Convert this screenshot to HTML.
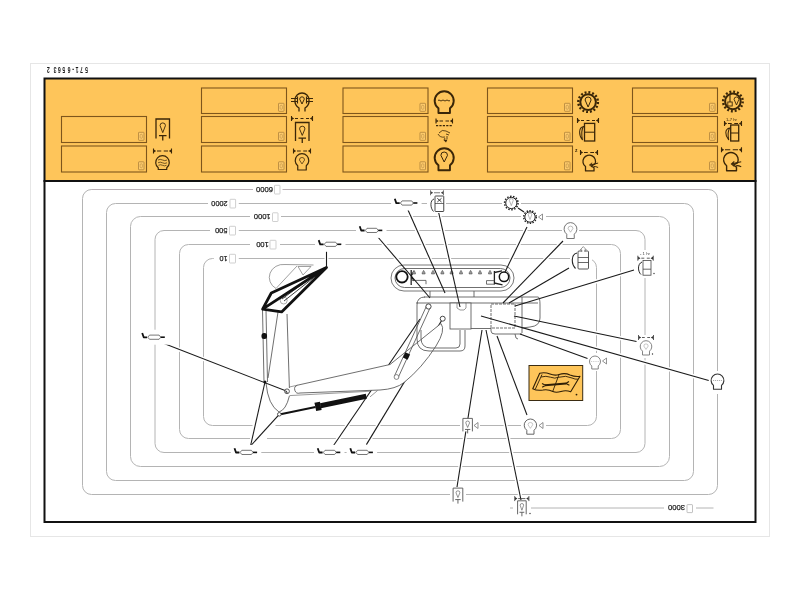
<!DOCTYPE html>
<html><head><meta charset="utf-8"><style>
html,body{margin:0;padding:0;background:#fff;width:800px;height:600px;overflow:hidden}
svg{display:block;font-family:"Liberation Sans",sans-serif}
</style></head><body>
<div style="position:absolute;left:0;top:0;width:800px;height:600px;will-change:transform">
<svg width="800" height="600" viewBox="0 0 800 600">

<defs><g id="gg"><path d="M-1.3,-4.2 L0.2,0.1 H3.6" fill="none" stroke="#111" stroke-width="1.8" stroke-linejoin="round"/><path d="M4.3,0 L6,-2.1 H15.6 L17.3,0 L15.6,2.1 H6 Z" fill="#fff" stroke="#555" stroke-width="0.8" stroke-linejoin="round"/><path d="M17.2,0 H21.3" stroke="#111" stroke-width="1.6"/></g></defs>
<rect x="30.5" y="63.5" width="739" height="473" fill="none" stroke="#e6e6e6" stroke-width="1"/>
<rect x="44.5" y="78.5" width="711" height="102.5" fill="#fec55a" stroke="#111" stroke-width="2"/>
<rect x="44.5" y="181" width="711" height="341" fill="#fff" stroke="#111" stroke-width="2"/>
<text x="0.32 8.39 15.65 23.06 28.71 36.94 44.35 51.29 62.10" y="0" font-size="8.4" font-weight="bold" fill="#1a1a1a" transform="translate(88.2,67.4) rotate(180) scale(0.62,1)">571-65632</text>
<rect x="61.5" y="116.5" width="85" height="26.0" fill="#fec55a" stroke="#7e561c" stroke-width="1.1"/>
<rect x="138.5" y="132.3" width="5.5" height="8" rx="0.6" fill="#fecb6c" stroke="#a57a35" stroke-width="0.7"/><rect x="140.1" y="134.3" width="2.3" height="4" rx="1" fill="none" stroke="#a57a35" stroke-width="0.45"/>
<rect x="61.5" y="146" width="85" height="26" fill="#fec55a" stroke="#7e561c" stroke-width="1.1"/>
<rect x="138.5" y="161.8" width="5.5" height="8" rx="0.6" fill="#fecb6c" stroke="#a57a35" stroke-width="0.7"/><rect x="140.1" y="163.8" width="2.3" height="4" rx="1" fill="none" stroke="#a57a35" stroke-width="0.45"/>
<rect x="201.5" y="88" width="85" height="25.5" fill="#fec55a" stroke="#7e561c" stroke-width="1.1"/>
<rect x="278.5" y="103.3" width="5.5" height="8" rx="0.6" fill="#fecb6c" stroke="#a57a35" stroke-width="0.7"/><rect x="280.1" y="105.3" width="2.3" height="4" rx="1" fill="none" stroke="#a57a35" stroke-width="0.45"/>
<rect x="201.5" y="116.5" width="85" height="26.0" fill="#fec55a" stroke="#7e561c" stroke-width="1.1"/>
<rect x="278.5" y="132.3" width="5.5" height="8" rx="0.6" fill="#fecb6c" stroke="#a57a35" stroke-width="0.7"/><rect x="280.1" y="134.3" width="2.3" height="4" rx="1" fill="none" stroke="#a57a35" stroke-width="0.45"/>
<rect x="201.5" y="146" width="85" height="26" fill="#fec55a" stroke="#7e561c" stroke-width="1.1"/>
<rect x="278.5" y="161.8" width="5.5" height="8" rx="0.6" fill="#fecb6c" stroke="#a57a35" stroke-width="0.7"/><rect x="280.1" y="163.8" width="2.3" height="4" rx="1" fill="none" stroke="#a57a35" stroke-width="0.45"/>
<rect x="343" y="88" width="85" height="25.5" fill="#fec55a" stroke="#7e561c" stroke-width="1.1"/>
<rect x="420" y="103.3" width="5.5" height="8" rx="0.6" fill="#fecb6c" stroke="#a57a35" stroke-width="0.7"/><rect x="421.6" y="105.3" width="2.3" height="4" rx="1" fill="none" stroke="#a57a35" stroke-width="0.45"/>
<rect x="343" y="116.5" width="85" height="26.0" fill="#fec55a" stroke="#7e561c" stroke-width="1.1"/>
<rect x="420" y="132.3" width="5.5" height="8" rx="0.6" fill="#fecb6c" stroke="#a57a35" stroke-width="0.7"/><rect x="421.6" y="134.3" width="2.3" height="4" rx="1" fill="none" stroke="#a57a35" stroke-width="0.45"/>
<rect x="343" y="146" width="85" height="26" fill="#fec55a" stroke="#7e561c" stroke-width="1.1"/>
<rect x="420" y="161.8" width="5.5" height="8" rx="0.6" fill="#fecb6c" stroke="#a57a35" stroke-width="0.7"/><rect x="421.6" y="163.8" width="2.3" height="4" rx="1" fill="none" stroke="#a57a35" stroke-width="0.45"/>
<rect x="487.5" y="88" width="85" height="25.5" fill="#fec55a" stroke="#7e561c" stroke-width="1.1"/>
<rect x="564.5" y="103.3" width="5.5" height="8" rx="0.6" fill="#fecb6c" stroke="#a57a35" stroke-width="0.7"/><rect x="566.1" y="105.3" width="2.3" height="4" rx="1" fill="none" stroke="#a57a35" stroke-width="0.45"/>
<rect x="487.5" y="116.5" width="85" height="26.0" fill="#fec55a" stroke="#7e561c" stroke-width="1.1"/>
<rect x="564.5" y="132.3" width="5.5" height="8" rx="0.6" fill="#fecb6c" stroke="#a57a35" stroke-width="0.7"/><rect x="566.1" y="134.3" width="2.3" height="4" rx="1" fill="none" stroke="#a57a35" stroke-width="0.45"/>
<rect x="487.5" y="146" width="85" height="26" fill="#fec55a" stroke="#7e561c" stroke-width="1.1"/>
<rect x="564.5" y="161.8" width="5.5" height="8" rx="0.6" fill="#fecb6c" stroke="#a57a35" stroke-width="0.7"/><rect x="566.1" y="163.8" width="2.3" height="4" rx="1" fill="none" stroke="#a57a35" stroke-width="0.45"/>
<rect x="632.5" y="88" width="85" height="25.5" fill="#fec55a" stroke="#7e561c" stroke-width="1.1"/>
<rect x="709.5" y="103.3" width="5.5" height="8" rx="0.6" fill="#fecb6c" stroke="#a57a35" stroke-width="0.7"/><rect x="711.1" y="105.3" width="2.3" height="4" rx="1" fill="none" stroke="#a57a35" stroke-width="0.45"/>
<rect x="632.5" y="116.5" width="85" height="26.0" fill="#fec55a" stroke="#7e561c" stroke-width="1.1"/>
<rect x="709.5" y="132.3" width="5.5" height="8" rx="0.6" fill="#fecb6c" stroke="#a57a35" stroke-width="0.7"/><rect x="711.1" y="134.3" width="2.3" height="4" rx="1" fill="none" stroke="#a57a35" stroke-width="0.45"/>
<rect x="632.5" y="146" width="85" height="26" fill="#fec55a" stroke="#7e561c" stroke-width="1.1"/>
<rect x="709.5" y="161.8" width="5.5" height="8" rx="0.6" fill="#fecb6c" stroke="#a57a35" stroke-width="0.7"/><rect x="711.1" y="163.8" width="2.3" height="4" rx="1" fill="none" stroke="#a57a35" stroke-width="0.45"/>
<path d="M156,138.5 V119 H169.5 V138.5" fill="none" stroke="#3a2608" stroke-width="1.3"/><path d="M162.75,132.65 L160.05,125.60 A2.70,2.70 0 0 1 165.45,125.60 Z" fill="none" stroke="#3a2608" stroke-width="0.9099999999999999" stroke-linejoin="round"/><path d="M158.97,135.57 H166.53 M162.75,135.57 V140.50" stroke="#3a2608" stroke-width="1.3" fill="none"/>
<line x1="157" y1="151" x2="168" y2="151" stroke="#3a2608" stroke-width="1.1" stroke-dasharray="4.25 2.5"/><path d="M153.5,148.5 V153.5 M171.5,148.5 V153.5" stroke="#3a2608" stroke-width="1.1"/><path d="M153.8,149.4 L156.2,151 L153.8,152.6 Z M171.2,149.4 L168.8,151 L171.2,152.6 Z" fill="#3a2608"/>
<path d="M158.25,169.50 V167.81 A6.8,6.8 0 1 1 166.75,167.81 V169.50 Z" fill="none" stroke="#3a2608" stroke-width="1.2" stroke-linejoin="round"/>
<path d="M158,160 q2.2,-1.3 4.5,0 t4.5,0 M158,162.8 q2.2,-1.3 4.5,0 t4.5,0 M158.5,165.3 q2,-1.1 4,0 t4,0" fill="none" stroke="#3a2608" stroke-width="0.7"/>
<path d="M299,111.5 V108 Q294.5,105 295,100 A7,7 0 0 1 309,100 Q309.5,105 305,108 V111.5" fill="none" stroke="#3a2608" stroke-width="1.3"/>
<path d="M291,98.5 H297 M307,98.5 H313 M291,101.5 H297 M307,101.5 H313 M297.5,96.5 V103.5 M306.5,96.5 V103.5" stroke="#3a2608" stroke-width="1.1"/>
<path d="M302.00,104.00 L299.70,99.10 A2.30,2.30 0 0 1 304.30,99.10 Z" fill="none" stroke="#3a2608" stroke-width="1.0" stroke-linejoin="round"/>
<line x1="295" y1="118.5" x2="309" y2="118.5" stroke="#3a2608" stroke-width="1.1" stroke-dasharray="3.00 2.5"/><path d="M291.5,116.0 V121.0 M312.5,116.0 V121.0" stroke="#3a2608" stroke-width="1.1"/><path d="M291.8,116.9 L294.2,118.5 L291.8,120.1 Z M312.2,116.9 L309.8,118.5 L312.2,120.1 Z" fill="#3a2608"/>
<path d="M295.5,141 V122.5 H309 V141" fill="none" stroke="#3a2608" stroke-width="1.3"/><path d="M302.25,135.45 L299.55,128.90 A2.70,2.70 0 0 1 304.95,128.90 Z" fill="none" stroke="#3a2608" stroke-width="0.9099999999999999" stroke-linejoin="round"/><path d="M298.47,138.22 H306.03 M302.25,138.22 V143.00" stroke="#3a2608" stroke-width="1.3" fill="none"/>
<line x1="297" y1="151" x2="307" y2="151" stroke="#3a2608" stroke-width="1.1" stroke-dasharray="3.75 2.5"/><path d="M293.5,148.5 V153.5 M310.5,148.5 V153.5" stroke="#3a2608" stroke-width="1.1"/><path d="M293.8,149.4 L296.2,151 L293.8,152.6 Z M310.2,149.4 L307.8,151 L310.2,152.6 Z" fill="#3a2608"/>
<path d="M297.75,170.00 V165.81 A6.8,6.8 0 1 1 306.25,165.81 V170.00 Z" fill="none" stroke="#3a2608" stroke-width="1.2" stroke-linejoin="round"/><path d="M302.00,163.90 L299.42,160.02 A2.58,2.58 0 0 1 304.58,160.02 Z" fill="none" stroke="#3a2608" stroke-width="0.72" stroke-linejoin="round"/>
<path d="M438.45,113.00 V108.36 A9.5,9.5 0 1 1 449.95,108.36 V113.00 Z" fill="none" stroke="#3a2608" stroke-width="1.9" stroke-linejoin="round"/>
<path d="M438,100.5 q1,-1 2,0 t2,0 t2,0 t2,0 t2,0 t2,0" fill="none" stroke="#3a2608" stroke-width="0.9"/>
<line x1="439.5" y1="121" x2="449" y2="121" stroke="#3a2608" stroke-width="1.1" stroke-dasharray="3.50 2.5"/><path d="M436.0,118.5 V123.5 M452.5,118.5 V123.5" stroke="#3a2608" stroke-width="1.1"/><path d="M436.3,119.4 L438.7,121 L436.3,122.6 Z M452.2,119.4 L449.8,121 L452.2,122.6 Z" fill="#3a2608"/>
<line x1="436" y1="125.6" x2="452.5" y2="125.6" stroke="#3a2608" stroke-width="1.3" stroke-dasharray="2.2 1.2"/>
<path d="M439,133 q3,-4 7,-2 l4,2 M438,134 q2,4 7,3 M446,134 l3,1 M447,136 v3 M444,140 l1,-2" fill="none" stroke="#3a2608" stroke-width="0.8"/><path d="M443.5,140 l2.5,2.5 l1.5,-3 Z" fill="#3a2608"/>
<path d="M438.45,170.30 V165.36 A9.5,9.5 0 1 1 449.95,165.36 V170.30 Z" fill="none" stroke="#3a2608" stroke-width="1.9" stroke-linejoin="round"/>
<path d="M444.20,162.00 L440.90,155.30 A3.30,3.30 0 0 1 447.50,155.30 Z" fill="none" stroke="#3a2608" stroke-width="1.0" stroke-linejoin="round"/>
<circle cx="588.1" cy="102.1" r="9.80" fill="none" stroke="#3a2608" stroke-width="2.40" stroke-dasharray="1.924 1.924"/><circle cx="588.1" cy="102.1" r="7.8" fill="none" stroke="#3a2608" stroke-width="2.0"/>
<path d="M588.10,107.00 L585.10,100.00 A3.00,3.00 0 0 1 591.10,100.00 Z" fill="none" stroke="#3a2608" stroke-width="1.0" stroke-linejoin="round"/>
<line x1="581" y1="120.5" x2="595" y2="120.5" stroke="#3a2608" stroke-width="1.1" stroke-dasharray="3.00 2.5"/><path d="M577.5,118.0 V123.0 M598.5,118.0 V123.0" stroke="#3a2608" stroke-width="1.1"/><path d="M577.8,118.9 L580.2,120.5 L577.8,122.1 Z M598.2,118.9 L595.8,120.5 L598.2,122.1 Z" fill="#3a2608"/>
<rect x="584.5" y="123.4" width="10.200000000000045" height="17.599999999999994" fill="none" stroke="#3a2608" stroke-width="1.3"/><line x1="584.5" y1="132.2" x2="594.7" y2="132.2" stroke="#3a2608" stroke-width="1.04"/><path d="M583.5,126.4 C578.5,127.4 578.5,135 582.5,140 C581.5,135 581.5,129.4 583.5,126.4 Z" fill="none" stroke="#3a2608" stroke-width="1.04"/>
<text x="575" y="152" font-size="5" fill="#3a2608" font-weight="bold">z</text>
<line x1="584" y1="152.5" x2="594" y2="152.5" stroke="#3a2608" stroke-width="1.1" stroke-dasharray="3.75 2.5"/><path d="M580.5,150.0 V155.0 M597.5,150.0 V155.0" stroke="#3a2608" stroke-width="1.1"/><path d="M580.8,150.9 L583.2,152.5 L580.8,154.1 Z M597.2,150.9 L594.8,152.5 L597.2,154.1 Z" fill="#3a2608"/>
<path d="M585.52,170.96 V166.55 A6.3,6.3 0 1 1 594.97,164.03 L591.50,165.92 L594.02,167.81 V170.96 Z" fill="none" stroke="#3a2608" stroke-width="1.3" stroke-linejoin="round"/><path d="M598.12,163.09 Q594.34,164.03 589.62,164.98 M592.13,162.77 L589.62,164.98 L592.13,167.19 M598.12,167.50 Q595.60,166.24 593.71,166.55" fill="none" stroke="#3a2608" stroke-width="0.98"/>
<circle cx="732.9" cy="101.4" r="9.80" fill="none" stroke="#3a2608" stroke-width="2.40" stroke-dasharray="1.924 1.924"/><circle cx="732.9" cy="101.4" r="7.8" fill="none" stroke="#3a2608" stroke-width="2.0"/>
<path d="M730,94 V102" stroke="#3a2608" stroke-width="1.1"/><rect x="727.8" y="102" width="4.4" height="4" fill="none" stroke="#3a2608" stroke-width="0.9"/>
<path d="M736.50,105.00 L734.10,99.40 A2.40,2.40 0 0 1 738.90,99.40 Z" fill="none" stroke="#3a2608" stroke-width="0.9" stroke-linejoin="round"/>
<text x="726" y="120.5" font-size="4.2" fill="#3a2608">1-7 hr</text>
<line x1="728" y1="123.5" x2="738" y2="123.5" stroke="#3a2608" stroke-width="1.1" stroke-dasharray="3.75 2.5"/><path d="M724.5,121.0 V126.0 M741.5,121.0 V126.0" stroke="#3a2608" stroke-width="1.1"/><path d="M724.8,121.9 L727.2,123.5 L724.8,125.1 Z M741.2,121.9 L738.8,123.5 L741.2,125.1 Z" fill="#3a2608"/>
<rect x="730.7" y="125" width="8.0" height="16" fill="none" stroke="#3a2608" stroke-width="1.3"/><line x1="730.7" y1="133.0" x2="738.7" y2="133.0" stroke="#3a2608" stroke-width="1.04"/><path d="M729.7,128 C724.7,129 724.7,135 728.7,140 C727.7,135 727.7,131 729.7,128 Z" fill="none" stroke="#3a2608" stroke-width="1.04"/>
<line x1="725" y1="149.8" x2="738" y2="149.8" stroke="#3a2608" stroke-width="1.1" stroke-dasharray="5.25 2.5"/><path d="M721.5,147.3 V152.3 M741.5,147.3 V152.3" stroke="#3a2608" stroke-width="1.1"/><path d="M721.8,148.20000000000002 L724.2,149.8 L721.8,151.4 Z M741.2,148.20000000000002 L738.8,149.8 L741.2,151.4 Z" fill="#3a2608"/>
<path d="M726.62,170.81 V165.71 A7.3,7.3 0 1 1 737.57,162.78 L733.55,164.97 L736.48,167.16 V170.81 Z" fill="none" stroke="#3a2608" stroke-width="1.4" stroke-linejoin="round"/><path d="M741.22,161.69 Q736.84,162.78 731.37,163.88 M734.28,161.32 L731.37,163.88 L734.28,166.44 M741.22,166.80 Q738.30,165.34 736.11,165.71" fill="none" stroke="#3a2608" stroke-width="1.05"/>
<g fill="none" stroke="#b4b4b4" stroke-width="1">
<rect x="82.5" y="189.5" width="635.0" height="305.0" rx="9"/>
<rect x="106.5" y="203.5" width="587.0" height="277.0" rx="9"/>
<rect x="130.5" y="216.5" width="539.0" height="250.0" rx="10"/>
<rect x="155" y="230.5" width="490" height="222.0" rx="9"/>
<rect x="179.5" y="244.5" width="441.0" height="194.0" rx="9"/>
<rect x="203.5" y="258.5" width="393.0" height="167.0" rx="9"/>
</g>
<line x1="91.5" y1="189.5" x2="708.5" y2="189.5" stroke="#bab0b6" stroke-width="1"/>
<rect x="253" y="187.5" width="29.5" height="4" fill="#fff"/><text x="0" y="0" font-size="7.7" fill="#1e1e1e" stroke="#1e1e1e" stroke-width="0.25" transform="translate(273,186.7) rotate(180)" textLength="17" lengthAdjust="spacingAndGlyphs">6000</text><rect x="274.5" y="185.3" width="5.5" height="8.7" rx="0.6" fill="#fff" stroke="#bbb" stroke-width="0.7"/>
<rect x="208" y="201.5" width="30.75" height="4" fill="#fff"/><text x="0" y="0" font-size="7.7" fill="#1e1e1e" stroke="#1e1e1e" stroke-width="0.25" transform="translate(227.5,200.7) rotate(180)" textLength="16.25" lengthAdjust="spacingAndGlyphs">2000</text><rect x="230" y="199.3" width="5.599999999999994" height="8.7" rx="0.6" fill="#fff" stroke="#bbb" stroke-width="0.7"/>
<rect x="250" y="215" width="31" height="4" fill="#fff"/><text x="0" y="0" font-size="7.7" fill="#1e1e1e" stroke="#1e1e1e" stroke-width="0.25" transform="translate(270.6,214.2) rotate(180)" textLength="16.850000000000023" lengthAdjust="spacingAndGlyphs">1000</text><rect x="272.5" y="212.8" width="5.5" height="8.7" rx="0.6" fill="#fff" stroke="#bbb" stroke-width="0.7"/>
<rect x="210" y="228.5" width="28.75" height="4" fill="#fff"/><text x="0" y="0" font-size="7.7" fill="#1e1e1e" stroke="#1e1e1e" stroke-width="0.25" transform="translate(227.5,227.7) rotate(180)" textLength="12.5" lengthAdjust="spacingAndGlyphs">500</text><rect x="229.5" y="226.3" width="6.0" height="8.7" rx="0.6" fill="#fff" stroke="#bbb" stroke-width="0.7"/>
<rect x="250" y="242.5" width="30" height="4" fill="#fff"/><text x="0" y="0" font-size="7.7" fill="#1e1e1e" stroke="#1e1e1e" stroke-width="0.25" transform="translate(268.75,241.7) rotate(180)" textLength="12.5" lengthAdjust="spacingAndGlyphs">100</text><rect x="270" y="240.3" width="6" height="8.7" rx="0.6" fill="#fff" stroke="#bbb" stroke-width="0.7"/>
<rect x="213.75" y="256.5" width="25.0" height="4" fill="#fff"/><text x="0" y="0" font-size="7.7" fill="#1e1e1e" stroke="#1e1e1e" stroke-width="0.25" transform="translate(227.5,255.7) rotate(180)" textLength="8.0" lengthAdjust="spacingAndGlyphs">10</text><rect x="229.5" y="254.3" width="6.0" height="8.7" rx="0.6" fill="#fff" stroke="#bbb" stroke-width="0.7"/>
<path d="M510,508 H513 M531,508 H664 M696,508 H713.5" stroke="#b4b4b4" stroke-width="1"/>
<text x="0" y="0" font-size="7.7" fill="#1e1e1e" stroke="#1e1e1e" stroke-width="0.25" transform="translate(685,505.2) rotate(180)" textLength="17" lengthAdjust="spacingAndGlyphs">3000</text>
<rect x="687" y="504.6" width="5.5" height="8" rx="0.6" fill="#fff" stroke="#999" stroke-width="0.6"/>
<line x1="408" y1="210" x2="445" y2="293" stroke="#fff" stroke-width="4"/>
<line x1="377" y1="236" x2="430" y2="298" stroke="#fff" stroke-width="4"/>
<line x1="438.75" y1="213" x2="460" y2="307" stroke="#fff" stroke-width="4"/>
<line x1="326.5" y1="249" x2="326.5" y2="267.5" stroke="#fff" stroke-width="4"/>
<line x1="164" y1="343.6" x2="287" y2="391.3" stroke="#fff" stroke-width="4"/>
<line x1="250.5" y1="446" x2="265" y2="382" stroke="#fff" stroke-width="4"/>
<line x1="250.5" y1="446" x2="279.3" y2="414.3" stroke="#fff" stroke-width="4"/>
<line x1="332.7" y1="446.7" x2="420" y2="319" stroke="#fff" stroke-width="4"/>
<line x1="366.4" y1="444.6" x2="442.7" y2="318.7" stroke="#fff" stroke-width="4"/>
<line x1="527" y1="227" x2="505" y2="272" stroke="#fff" stroke-width="4"/>
<line x1="563" y1="241" x2="503" y2="303" stroke="#fff" stroke-width="4"/>
<line x1="569" y1="268" x2="509" y2="303" stroke="#fff" stroke-width="4"/>
<line x1="634" y1="270" x2="515" y2="306" stroke="#fff" stroke-width="4"/>
<line x1="636.5" y1="341.5" x2="514" y2="316" stroke="#fff" stroke-width="4"/>
<line x1="708.75" y1="380.5" x2="481" y2="316" stroke="#fff" stroke-width="4"/>
<line x1="587.5" y1="358.5" x2="520" y2="334" stroke="#fff" stroke-width="4"/>
<line x1="482" y1="330" x2="457" y2="487" stroke="#fff" stroke-width="4"/>
<line x1="486" y1="330" x2="521" y2="500" stroke="#fff" stroke-width="4"/>
<line x1="497" y1="336" x2="527" y2="415" stroke="#fff" stroke-width="4"/>
<line x1="518" y1="208" x2="524" y2="212" stroke="#fff" stroke-width="4"/>
<rect x="252.5" y="423.5" width="23" height="4" fill="#fff"/><rect x="250" y="436.5" width="17" height="4" fill="#fff"/>
<rect x="391" y="265" width="123" height="26" rx="13" fill="#fff" stroke="#555" stroke-width="0.8"/>
<rect x="395" y="268.5" width="115" height="19" rx="9.5" fill="none" stroke="#555" stroke-width="0.85"/>
<circle cx="402" cy="276.8" r="5.7" fill="#fff" stroke="#111" stroke-width="1.8"/>
<circle cx="504" cy="276.8" r="4.7" fill="#fff" stroke="#111" stroke-width="1.5"/>
<path d="M411.2,270 V285 M411.2,276 L414,271 M411.2,276 L414,281 M494.4,271 V284.5 M494.4,272.5 L502,270.8 M494.4,283 L502.5,284.8" stroke="#222" stroke-width="1.3" fill="none"/>
<path d="M414,270.3 Q415.9,273 415.5,274 H412.5 Q412.1,273 414,270.3 Z" fill="#999" stroke="#444" stroke-width="0.5"/>
<path d="M423.6,270.3 Q425.5,273 425.1,274 H422.1 Q421.70000000000005,273 423.6,270.3 Z" fill="#999" stroke="#444" stroke-width="0.5"/>
<path d="M433,270.3 Q434.9,273 434.5,274 H431.5 Q431.1,273 433,270.3 Z" fill="#999" stroke="#444" stroke-width="0.5"/>
<path d="M442.4,270.3 Q444.29999999999995,273 443.9,274 H440.9 Q440.5,273 442.4,270.3 Z" fill="#999" stroke="#444" stroke-width="0.5"/>
<path d="M451.6,270.3 Q453.5,273 453.1,274 H450.1 Q449.70000000000005,273 451.6,270.3 Z" fill="#999" stroke="#444" stroke-width="0.5"/>
<path d="M461,270.3 Q462.9,273 462.5,274 H459.5 Q459.1,273 461,270.3 Z" fill="#999" stroke="#444" stroke-width="0.5"/>
<path d="M470.6,270.3 Q472.5,273 472.1,274 H469.1 Q468.70000000000005,273 470.6,270.3 Z" fill="#999" stroke="#444" stroke-width="0.5"/>
<path d="M480,270.3 Q481.9,273 481.5,274 H478.5 Q478.1,273 480,270.3 Z" fill="#999" stroke="#444" stroke-width="0.5"/>
<path d="M490,270.3 Q491.9,273 491.5,274 H488.5 Q488.1,273 490,270.3 Z" fill="#999" stroke="#444" stroke-width="0.5"/>
<path d="M411.5,284.2 V280.4 H426 V284.2 M494.4,280.6 H486.5 V284.2 H494.4" fill="none" stroke="#555" stroke-width="0.85"/>
<path d="M430,291 V297 M474,291 V297" stroke="#555" stroke-width="0.85"/>
<path d="M424,297 H538 M416,303 H538" stroke="#555" stroke-width="0.85" fill="none"/>
<path d="M417,330 V305 Q417,297 425,297 M538,297 Q540,297 540,305 V318 Q540,326 530,327 L522,328" fill="none" stroke="#555" stroke-width="0.85"/>
<rect x="450" y="303" width="21" height="26" fill="#fff" stroke="#555" stroke-width="0.85"/>
<path d="M457,303 V308 L460,310 H464 L466,308 V303" fill="none" stroke="#555" stroke-width="0.6"/>
<rect x="491" y="304" width="24" height="24" fill="#fff" stroke="#555" stroke-width="0.85" stroke-dasharray="3 1"/>
<path d="M471,328.5 H491 M522,297 V333 M491,328 V331 Q491,334 495,334 H522" fill="none" stroke="#555" stroke-width="0.85"/>
<path d="M515,334 l1,4 l2,1" fill="none" stroke="#555" stroke-width="0.85"/>
<path d="M313.5,265 L285,264.5 A14,13 0 0 0 276,288.5 L297,266 M298,266.5 L311,266.5 L303,275 Z" fill="none" stroke="#777" stroke-width="0.7"/>
<path d="M262.5,310 L264,382 M266,310 L267.5,382" stroke="#555" stroke-width="0.85" fill="none"/>
<rect x="261.5" y="333" width="5.5" height="6" rx="2.5" fill="#111"/>
<path d="M278,312 L268,378 M287,314 L289.4,388 M266,383 Q268,405 279,412 Q286,410 289.4,396" fill="none" stroke="#555" stroke-width="0.85"/>
<circle cx="283.7" cy="300.5" r="3.5" fill="none" stroke="#777" stroke-width="0.6"/>
<path d="M326.5,267.5 L271.3,293 L262.6,309.2 L281.6,311.9 Z M326.5,267.5 L262.6,309.2" fill="none" stroke="#111" stroke-width="2.8" stroke-linejoin="round"/>
<path d="M326.5,267.5 L284,301 M324,268 L282,299" stroke="#111" stroke-width="0.8"/>
<line x1="408" y1="210" x2="445" y2="293" stroke="#1a1a1a" stroke-width="1.1"/>
<line x1="377" y1="236" x2="430" y2="298" stroke="#1a1a1a" stroke-width="1.1"/>
<line x1="438.75" y1="213" x2="460" y2="307" stroke="#1a1a1a" stroke-width="1.1"/>
<line x1="326.5" y1="249" x2="326.5" y2="267.5" stroke="#1a1a1a" stroke-width="1.1"/>
<line x1="164" y1="343.6" x2="287" y2="391.3" stroke="#1a1a1a" stroke-width="1.1"/>
<line x1="250.5" y1="446" x2="265" y2="382" stroke="#1a1a1a" stroke-width="1.1"/>
<line x1="250.5" y1="446" x2="279.3" y2="414.3" stroke="#1a1a1a" stroke-width="1.1"/>
<line x1="332.7" y1="446.7" x2="420" y2="319" stroke="#1a1a1a" stroke-width="1.1"/>
<line x1="366.4" y1="444.6" x2="442.7" y2="318.7" stroke="#1a1a1a" stroke-width="1.1"/>
<line x1="527" y1="227" x2="505" y2="272" stroke="#1a1a1a" stroke-width="1.1"/>
<line x1="563" y1="241" x2="503" y2="303" stroke="#1a1a1a" stroke-width="1.1"/>
<line x1="569" y1="268" x2="509" y2="303" stroke="#1a1a1a" stroke-width="1.1"/>
<line x1="634" y1="270" x2="515" y2="306" stroke="#1a1a1a" stroke-width="1.1"/>
<line x1="636.5" y1="341.5" x2="514" y2="316" stroke="#1a1a1a" stroke-width="1.1"/>
<line x1="708.75" y1="380.5" x2="481" y2="316" stroke="#1a1a1a" stroke-width="1.1"/>
<line x1="587.5" y1="358.5" x2="520" y2="334" stroke="#1a1a1a" stroke-width="1.1"/>
<line x1="482" y1="330" x2="457" y2="487" stroke="#1a1a1a" stroke-width="1.1"/>
<line x1="486" y1="330" x2="521" y2="500" stroke="#1a1a1a" stroke-width="1.1"/>
<line x1="497" y1="336" x2="527" y2="415" stroke="#1a1a1a" stroke-width="1.1"/>
<line x1="518" y1="208" x2="524" y2="212" stroke="#1a1a1a" stroke-width="1.1"/>
<path d="M297.5,385.2 L390,364.5 L441,323.5 Q446,330 436,346 Q422,368 404,382.5 Q396,389 380,390 L300,393 A3.4,3.4 0 0 1 297.5,385.2 Z" fill="#fff" stroke="#555" stroke-width="0.85"/>
<path d="M417,330 V339 Q417,351 429,351 H460 Q465,351 465,346 V330 M421,330 V338 Q421,348 431,348 H456 Q460,348 460,344 V330" fill="none" stroke="#555" stroke-width="0.85"/>
<path d="M289.4,387 L297.5,385.2 M289.4,395.6 L370,391.25 M370,396.9 L377.5,390.6" fill="none" stroke="#555" stroke-width="0.6"/>
<path d="M426.5,306 L394.5,376 M430,308 L398,378" stroke="#555" stroke-width="0.85"/>
<circle cx="428.5" cy="306.5" r="2.6" fill="#fff" stroke="#333" stroke-width="0.9"/>
<circle cx="396.5" cy="377" r="2.4" fill="#fff" stroke="#555" stroke-width="0.7"/>
<rect x="-2.6" y="-3" width="5.2" height="6" fill="#111" transform="translate(406.5,356) rotate(25)"/>
<circle cx="442.7" cy="318.7" r="2.5" fill="#fff" stroke="#333" stroke-width="0.9"/>
<path d="M279.3,414.4 L315.5,406.9" stroke="#111" stroke-width="2"/>
<path d="M315.3,406.9 L320.8,405.8" stroke="#111" stroke-width="8.5"/>
<path d="M320.5,405.8 L366.3,396.3" stroke="#111" stroke-width="5"/>
<circle cx="287" cy="391.3" r="2.4" fill="#fff" stroke="#333" stroke-width="0.8"/><path d="M285.5,390 L288,392.8 L285.6,392.6 Z" fill="#222"/>
<circle cx="279.3" cy="414.3" r="1.8" fill="#fff" stroke="#333" stroke-width="0.8"/>
<circle cx="265" cy="382" r="1.5" fill="#111"/>
<rect x="391.1" y="195.5" width="30.5" height="15" fill="#fff"/>
<use href="#gg" transform="translate(396.1,203)"/>
<rect x="356" y="222.9" width="30.5" height="15" fill="#fff"/>
<use href="#gg" transform="translate(361,230.4)"/>
<rect x="315" y="236.8" width="30.5" height="15" fill="#fff"/>
<use href="#gg" transform="translate(320,244.3)"/>
<rect x="138.5" y="329.7" width="30.5" height="15" fill="#fff"/>
<use href="#gg" transform="translate(143.5,337.2)"/>
<rect x="230.8" y="444.9" width="30.5" height="15" fill="#fff"/>
<use href="#gg" transform="translate(235.8,452.4)"/>
<rect x="314" y="444.9" width="30.5" height="15" fill="#fff"/>
<use href="#gg" transform="translate(319,452.4)"/>
<rect x="346.6" y="444.9" width="30.5" height="15" fill="#fff"/>
<use href="#gg" transform="translate(351.6,452.4)"/>
<rect x="502" y="201.5" width="19" height="4.0" fill="#fff"/>
<circle cx="511.3" cy="203" r="5.8" fill="#fff"/>
<circle cx="511.3" cy="203" r="6.75" fill="none" stroke="#222" stroke-width="1.50" stroke-dasharray="1.515 1.515"/><circle cx="511.3" cy="203" r="5.6" fill="none" stroke="#222" stroke-width="1.0"/>
<path d="M511.30,205.60 L509.40,200.50 A1.90,1.90 0 0 1 513.20,200.50 Z" fill="none" stroke="#888" stroke-width="0.6" stroke-linejoin="round"/>
<rect x="521" y="215" width="25" height="4" fill="#fff"/>
<circle cx="530" cy="217" r="5.4" fill="#fff"/>
<circle cx="530" cy="217" r="6.30" fill="none" stroke="#222" stroke-width="1.40" stroke-dasharray="1.414 1.414"/><circle cx="530" cy="217" r="5.2" fill="none" stroke="#222" stroke-width="1.0"/>
<path d="M530.00,219.50 L528.20,214.80 A1.80,1.80 0 0 1 531.80,214.80 Z" fill="none" stroke="#888" stroke-width="0.6" stroke-linejoin="round"/>
<path d="M538.5,217 L542.5,214 V220 Z" fill="#fff" stroke="#666" stroke-width="0.7"/>
<rect x="427" y="201.5" width="19" height="4.0" fill="#fff"/>
<line x1="434" y1="192.75" x2="440" y2="192.75" stroke="#444" stroke-width="0.7" stroke-dasharray="6.00 2.5"/><path d="M430.5,190.25 V195.25 M443.5,190.25 V195.25" stroke="#444" stroke-width="0.7"/><path d="M430.8,191.15 L433.2,192.75 L430.8,194.35 Z M443.2,191.15 L440.8,192.75 L443.2,194.35 Z" fill="#444"/>
<rect x="435" y="196" width="8.75" height="15.5" rx="0.6" fill="#fff" stroke="#333" stroke-width="0.9"/>
<line x1="435" y1="203.5" x2="443.75" y2="203.5" stroke="#333" stroke-width="0.7"/>
<path d="M437.3,198.3 L441.5,202 M441.5,198.3 L437.3,202" stroke="#111" stroke-width="0.8"/>
<path d="M434,199 C430,200 430,208 433.5,211.5" fill="none" stroke="#222" stroke-width="0.9"/>
<rect x="562" y="228.5" width="17" height="4.0" fill="#fff"/>
<path d="M566.75,238.50 V234.19 A6.4,6.4 0 1 1 574.25,234.19 V238.50 Z" fill="#fff" stroke="#666" stroke-width="0.9" stroke-linejoin="round"/><path d="M570.50,232.20 L568.07,228.55 A2.43,2.43 0 0 1 572.93,228.55 Z" fill="none" stroke="#888" stroke-width="0.54" stroke-linejoin="round"/>
<rect x="570" y="256.5" width="22" height="4.0" fill="#fff"/>
<rect x="578" y="251" width="10.5" height="18" rx="1" fill="#fff" stroke="#444" stroke-width="0.9"/>
<path d="M578,257.5 H588.5 M578,262.5 H588.5" stroke="#444" stroke-width="0.8"/>
<path d="M581.8,252 V249.8 H580.3 L583.3,246.6 L586.3,249.8 H584.8 V252" fill="#fff" stroke="#555" stroke-width="0.6"/>
<path d="M577,253 C571,254 571,264 575.5,268.5" fill="none" stroke="#222" stroke-width="1.1"/>
<rect x="643" y="250" width="4" height="28" fill="#fff"/>
<line x1="641.3" y1="258.2" x2="649.8" y2="258.2" stroke="#333" stroke-width="0.8" stroke-dasharray="3.00 2.5"/><path d="M637.8,255.7 V260.7 M653.3,255.7 V260.7" stroke="#333" stroke-width="0.8"/><path d="M638.0999999999999,256.59999999999997 L640.5,258.2 L638.0999999999999,259.8 Z M653.0,256.59999999999997 L650.5999999999999,258.2 L653.0,259.8 Z" fill="#333"/>
<text x="640" y="255" font-size="4.3" fill="#444">- 1 hr</text>
<rect x="643" y="260.4" width="8" height="14.8" fill="#fff" stroke="#444" stroke-width="0.8"/>
<line x1="643" y1="269.2" x2="651" y2="269.2" stroke="#444" stroke-width="0.8"/>
<path d="M642,262 C637,264 638,272 641,274.5" fill="none" stroke="#222" stroke-width="1"/>
<circle cx="654" cy="273.5" r="0.7" fill="#333"/>
<rect x="640" y="335" width="10" height="23" fill="#fff"/>
<line x1="642" y1="337.5" x2="650" y2="337.5" stroke="#333" stroke-width="0.8" stroke-dasharray="2.75 2.5"/><path d="M638.5,335.0 V340.0 M653.5,335.0 V340.0" stroke="#333" stroke-width="0.8"/><path d="M638.8,335.9 L641.2,337.5 L638.8,339.1 Z M653.2,335.9 L650.8,337.5 L653.2,339.1 Z" fill="#333"/>
<path d="M642.50,355.00 V351.12 A5.8,5.8 0 1 1 649.50,351.12 V355.00 Z" fill="#fff" stroke="#777" stroke-width="0.9" stroke-linejoin="round"/><path d="M646.00,349.40 L643.80,346.09 A2.20,2.20 0 0 1 648.20,346.09 Z" fill="none" stroke="#999" stroke-width="0.54" stroke-linejoin="round"/>
<circle cx="652.5" cy="354" r="0.7" fill="#333"/>
<rect x="594.5" y="353" width="4.5" height="18" fill="#fff"/>
<path d="M591.75,369.00 V365.94 A5.5,5.5 0 1 1 598.25,365.94 V369.00 Z" fill="#fff" stroke="#777" stroke-width="0.9" stroke-linejoin="round"/>
<line x1="591" y1="361.5" x2="599" y2="361.5" stroke="#999" stroke-width="0.5" stroke-dasharray="1 0.8"/>
<path d="M602.5,361 L606.5,358 V364 Z" fill="#fff" stroke="#666" stroke-width="0.7"/>
<rect x="715" y="371" width="5" height="23" fill="#fff"/>
<path d="M713.50,389.20 V385.40 A6.4,6.4 0 1 1 721.50,385.40 V389.20 Z" fill="#fff" stroke="#333" stroke-width="1.1" stroke-linejoin="round"/>
<line x1="713" y1="380.5" x2="722" y2="380.5" stroke="#777" stroke-width="0.6" stroke-dasharray="1.2 0.8"/>
<rect x="521" y="423" width="25" height="4" fill="#fff"/>
<path d="M526.80,434.20 V430.25 A6.2,6.2 0 1 1 534.00,430.25 V434.20 Z" fill="#fff" stroke="#555" stroke-width="0.9" stroke-linejoin="round"/><path d="M530.40,428.30 L528.04,424.77 A2.36,2.36 0 0 1 532.76,424.77 Z" fill="none" stroke="#999" stroke-width="0.54" stroke-linejoin="round"/>
<path d="M539,425.5 L543,422.5 V428.5 Z" fill="#fff" stroke="#666" stroke-width="0.7"/>
<rect x="460" y="423" width="20" height="4" fill="#fff"/>
<rect x="462.9" y="418.4" width="9.5" height="13" fill="#fff"/>
<path d="M462.9,431.4 V418.4 H472.4 V431.4" fill="none" stroke="#555" stroke-width="0.9"/><path d="M467.65,427.50 L465.75,422.90 A1.90,1.90 0 0 1 469.55,422.90 Z" fill="none" stroke="#555" stroke-width="0.63" stroke-linejoin="round"/><path d="M464.99,429.45 H470.31 M467.65,429.45 V433.40" stroke="#555" stroke-width="0.9" fill="none"/>
<path d="M474,425.5 L478,422.5 V428.5 Z" fill="#fff" stroke="#666" stroke-width="0.7"/>
<rect x="450" y="492.5" width="16" height="4.0" fill="#fff"/>
<rect x="453.1" y="488.1" width="9.7" height="13.5" fill="#fff"/>
<path d="M453.1,501.6 V488.1 H462.8 V501.6" fill="none" stroke="#555" stroke-width="0.9"/><path d="M457.95,497.55 L456.01,492.74 A1.94,1.94 0 0 1 459.89,492.74 Z" fill="none" stroke="#555" stroke-width="0.63" stroke-linejoin="round"/><path d="M455.23,499.58 H460.67 M457.95,499.58 V503.60" stroke="#555" stroke-width="0.9" fill="none"/>
<line x1="518.2" y1="498.6" x2="525.4" y2="498.6" stroke="#333" stroke-width="0.8" stroke-dasharray="7.20 2.5"/><path d="M514.7,496.1 V501.1 M528.9,496.1 V501.1" stroke="#333" stroke-width="0.8"/><path d="M515.0,497.0 L517.4000000000001,498.6 L515.0,500.20000000000005 Z M528.6,497.0 L526.1999999999999,498.6 L528.6,500.20000000000005 Z" fill="#333"/>
<path d="M517.6,514.3 V500.8 H526.2 V514.3" fill="none" stroke="#555" stroke-width="0.9"/><path d="M521.90,510.25 L520.18,505.22 A1.72,1.72 0 0 1 523.62,505.22 Z" fill="none" stroke="#555" stroke-width="0.63" stroke-linejoin="round"/><path d="M519.49,512.27 H524.31 M521.90,512.27 V516.30" stroke="#555" stroke-width="0.9" fill="none"/>
<circle cx="530" cy="513.5" r="0.7" fill="#333"/>
<rect x="529" y="365.5" width="53.7" height="35" fill="#fec55a" stroke="#3b2c12" stroke-width="1"/>
<path d="M539.7,373.2 Q545,372 550,374 Q555,376 559.1,374.4 Q565,372.5 570,375 Q575,377 580,376.3 L570.7,391.8 Q566,390 561,391.5 Q556,393 552.9,391.5 Q548,389 543,390 Q537,391 532.75,388.7 Z" fill="none" stroke="#2e1e06" stroke-width="1.1" stroke-linejoin="round"/>
<path d="M542,374.5 L535.3,389.2 M541,377 Q546,375.5 550.5,377.2 Q555,379 558.5,377.3 Q566,375 572,378 Q575,379.5 578,379.2 M559.1,374.4 L552.7,391.5" fill="none" stroke="#2e1e06" stroke-width="0.9"/>
<path d="M545,385.2 L566,383.5" stroke="#2e1e06" stroke-width="2.1"/>
<path d="M542,383.5 L545.5,385.2 L542.2,387.3 M569,381.5 L565.8,383.5 L569.4,385.2" fill="none" stroke="#2e1e06" stroke-width="1.2"/>
<circle cx="576.5" cy="394.6" r="0.9" fill="#2e1e06"/>
</svg>
</div>
</body></html>
